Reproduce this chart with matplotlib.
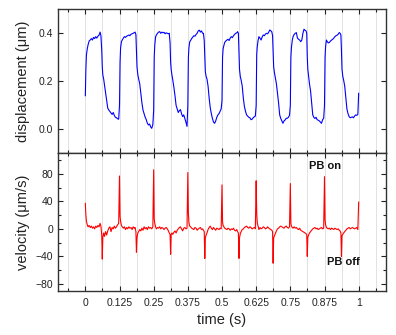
import numpy as np
import matplotlib
matplotlib.use("Agg")
import matplotlib.pyplot as plt
from matplotlib.ticker import MultipleLocator, FixedLocator

plt.rcParams['font.family'] = ['Liberation Sans', 'DejaVu Sans']

# ---- data ----
cycle_starts = [0.0, 0.125, 0.25, 0.375, 0.5, 0.625, 0.75, 0.875]
phase = [0.000, 0.002, 0.004, 0.007, 0.010, 0.014, 0.018, 0.022, 0.026, 0.030,
         0.034, 0.038, 0.042, 0.046, 0.050, 0.054, 0.057, 0.060, 0.062, 0.064,
         0.067, 0.070, 0.074, 0.078, 0.082, 0.086, 0.090, 0.094, 0.098, 0.102,
         0.106, 0.110, 0.114, 0.118, 0.122]

disp_c0 = [0.14, 0.25, 0.31, 0.335, 0.352, 0.368, 0.372, 0.378, 0.372, 0.383, 0.378, 0.386, 0.380, 0.388, 0.392, 0.405, 0.39, 0.33, 0.26, 0.226, 0.21, 0.185, 0.15, 0.115, 0.088, 0.08, 0.074, 0.068, 0.062, 0.07, 0.058, 0.05, 0.048, 0.044, 0.042]
disp_c1 = [0.10, 0.28, 0.34, 0.365, 0.372, 0.38, 0.386, 0.383, 0.388, 0.39, 0.393, 0.39, 0.396, 0.398, 0.40, 0.403, 0.405, 0.395, 0.33, 0.26, 0.228, 0.21, 0.19, 0.15, 0.11, 0.08, 0.065, 0.05, 0.04, 0.025, 0.018, 0.022, 0.01, 0.004, 0.02]
disp_c2 = [0.08, 0.30, 0.35, 0.385, 0.393, 0.40, 0.405, 0.407, 0.40, 0.405, 0.402, 0.404, 0.398, 0.402, 0.400, 0.398, 0.40, 0.36, 0.28, 0.25, 0.225, 0.205, 0.175, 0.14, 0.10, 0.085, 0.07, 0.078, 0.082, 0.065, 0.053, 0.06, 0.045, 0.03, 0.012]
disp_c3 = [0.10, 0.30, 0.34, 0.365, 0.37, 0.378, 0.384, 0.39, 0.388, 0.395, 0.40, 0.41, 0.413, 0.405, 0.41, 0.40, 0.40, 0.37, 0.30, 0.24, 0.22, 0.21, 0.18, 0.13, 0.09, 0.065, 0.045, 0.03, 0.025, 0.035, 0.05, 0.06, 0.065, 0.075, 0.085]
disp_c4 = [0.12, 0.30, 0.335, 0.35, 0.362, 0.368, 0.372, 0.375, 0.37, 0.38, 0.386, 0.382, 0.39, 0.395, 0.40, 0.402, 0.407, 0.40, 0.33, 0.25, 0.22, 0.205, 0.18, 0.13, 0.095, 0.075, 0.06, 0.055, 0.05, 0.048, 0.04, 0.042, 0.048, 0.052, 0.055]
disp_c5 = [0.10, 0.31, 0.345, 0.37, 0.386, 0.38, 0.372, 0.385, 0.393, 0.39, 0.397, 0.40, 0.398, 0.405, 0.414, 0.41, 0.407, 0.39, 0.33, 0.26, 0.235, 0.215, 0.19, 0.15, 0.11, 0.06, 0.045, 0.035, 0.025, 0.035, 0.039, 0.046, 0.046, 0.05, 0.058]
disp_c6 = [0.10, 0.30, 0.34, 0.37, 0.386, 0.395, 0.40, 0.403, 0.38, 0.375, 0.372, 0.365, 0.372, 0.40, 0.417, 0.412, 0.411, 0.40, 0.30, 0.25, 0.22, 0.19, 0.16, 0.11, 0.06, 0.05, 0.045, 0.05, 0.04, 0.038, 0.035, 0.03, 0.025, 0.04, 0.046]
disp_c7 = [0.10, 0.30, 0.345, 0.372, 0.365, 0.36, 0.362, 0.368, 0.372, 0.375, 0.38, 0.386, 0.39, 0.392, 0.396, 0.403, 0.40, 0.393, 0.33, 0.25, 0.22, 0.205, 0.18, 0.13, 0.085, 0.065, 0.053, 0.048, 0.05, 0.052, 0.048, 0.055, 0.06, 0.058, 0.062]
disp_end = 0.15

vel_c0 = [37, 20, 11, 6, 3, 5, 2, 4, 1, 3, 0, 4, 2, 5, 3, 8, 4, -9, -44, -12, -6, -11, -4, -9, -3, 1, 3, -4, 2, 0, 4, 1, 3, 6, 8]
vel_c1 = [77, 18, 11, 5, 3, 1, 3, -1, 2, 0, 3, 1, 2, -1, 3, 1, 2, -4, -34, -13, -6, -4, -1, -3, 1, -2, 3, 0, 2, -1, 3, 1, 2, 0, 3]
vel_c2 = [86, 15, 8, 3, 0, 2, 1, 3, 0, 2, 1, -1, 1, 2, 0, -3, -6, -8, -37, -8, -6, -8, -5, -3, -6, -2, 0, 2, 3, 0, -3, 1, 2, 0, 1]
vel_c3 = [82, 23, 9, 4, 3, 1, 0, -1, 2, 1, -2, 0, 1, 2, -1, 0, -2, -4, -43, -13, -9, -6, -1, 2, 4, 1, -1, 2, 0, -2, 1, 0, -1, 1, 0]
vel_c4 = [64, 10, 5, 3, 1, 0, -1, 1, 0, -2, 0, -1, 1, -2, -3, -1, -4, -6, -43, -13, -7, -4, -1, 0, 2, 3, 4, 2, 1, 3, 2, 0, 1, 2, 0]
vel_c5 = [70, 23, 9, 4, -1, 2, 0, 1, 3, 2, 0, 1, 3, 1, 0, -1, -2, -4, -50, -13, -10, -7, -3, 0, 1, 3, 4, 3, 2, 1, 3, 4, 2, 1, 3]
vel_c6 = [66, 8, 4, 2, 1, 3, 1, 2, 0, -1, 1, -2, -3, -4, -5, -6, -7, -8, -40, -12, -9, -6, -4, -2, 0, 1, 2, 0, 1, -1, 0, 1, 2, 0, 1]
vel_c7 = [76, 13, 6, 2, 1, 0, 1, -1, 1, 0, -1, 1, 0, -1, 0, -2, -3, -6, -40, -10, -8, -6, -4, -2, 0, 1, 2, 0, 1, 2, 1, 0, 1, 2, -1]
vel_end = 39

x_tick_vals = [0, 0.125, 0.25, 0.375, 0.5, 0.625, 0.75, 0.875, 1]
x_tick_labels = ['0', '0.125', '0.25', '0.375', '0.5', '0.625', '0.75', '0.875', '1']

# ---- assemble series ----
disp_cycles = [disp_c0, disp_c1, disp_c2, disp_c3, disp_c4, disp_c5, disp_c6, disp_c7]
vel_cycles = [vel_c0, vel_c1, vel_c2, vel_c3, vel_c4, vel_c5, vel_c6, vel_c7]
t = []
disp = []
vel = []
for s, dc, vc in zip(cycle_starts, disp_cycles, vel_cycles):
    for p, d, v in zip(phase, dc, vc):
        t.append(s + p)
        disp.append(d)
        vel.append(v)
t.append(1.0)
disp.append(disp_end)
vel.append(vel_end)

# ---- figure ----
fig = plt.figure(figsize=(3.96, 3.35), dpi=100)
L, R = 58 / 396, 386 / 396
ax1 = fig.add_axes([L, 1 - 153.3 / 335, R - L, (153.3 - 9.3) / 335])
ax2 = fig.add_axes([L, 1 - 290.7 / 335, R - L, (290.7 - 153.3) / 335], sharex=ax1)

txt = '#222222'
for ax in (ax1, ax2):
    ax.set_xlim(-0.1, 1.1)
    ax.xaxis.set_major_locator(FixedLocator(x_tick_vals))
    ax.xaxis.set_minor_locator(MultipleLocator(0.0625))
    ax.grid(True, which='both', axis='x', color='#e2e2e2', lw=0.7)
    ax.set_axisbelow(True)
    ax.tick_params(which='both', direction='in', top=True, right=True,
                   labelsize=7.5, colors='#222222', width=0.8)
    ax.tick_params(which='major', length=3.5)
    ax.tick_params(which='minor', length=2)
    for sp in ax.spines.values():
        sp.set_linewidth(1.0)
        sp.set_color('#333333')

ax1.plot(t, disp, color='#0000ff', lw=0.8)
ax1.set_ylim(-0.1, 0.5)
ax1.set_yticks([0.0, 0.2, 0.4])
ax1.set_yticklabels(['0.0', '0.2', '0.4'])
ax1.tick_params(labelbottom=False)
ax1.set_ylabel('displacement (μm)', fontsize=10.5, color=txt, labelpad=6)

ax2.plot(t, vel, color='#ff0000', lw=0.8)
ax2.set_ylim(-90, 110)
ax2.set_yticks([-80, -40, 0, 40, 80])
ax2.yaxis.set_minor_locator(MultipleLocator(20))
ax2.set_xticklabels(x_tick_labels)
ax2.tick_params(axis='x', pad=5)
ax2.set_ylabel('velocity (μm/s)', fontsize=10.5, color=txt, labelpad=4)
ax2.set_xlabel('time (s)', fontsize=10.5, color=txt, labelpad=4)

ax2.text(0.877, 91, 'PB on', fontsize=8, fontweight='bold', ha='center', va='center', color='#111111')
ax2.text(0.943, -48, 'PB off', fontsize=8, fontweight='bold', ha='center', va='center', color='#111111')

fig.savefig('out.png', dpi=100)
